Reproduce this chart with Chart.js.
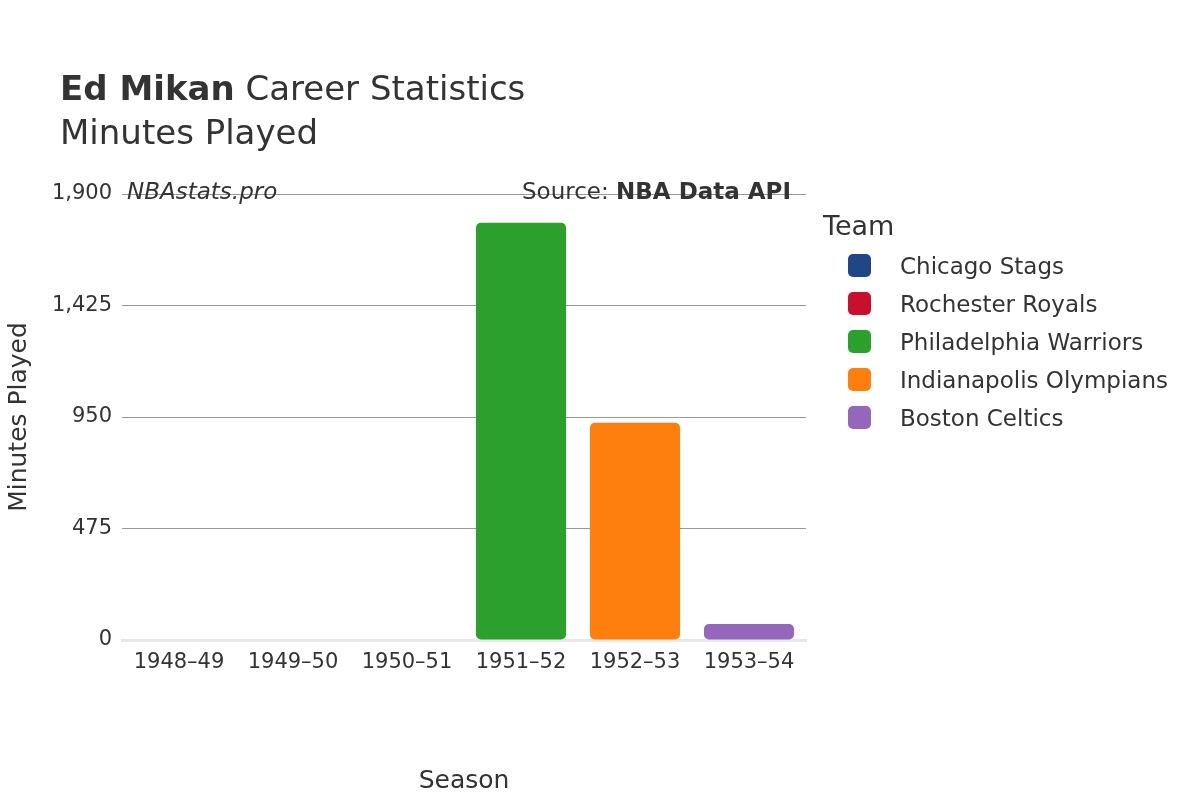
<!DOCTYPE html>
<html>
<head>
<meta charset="utf-8">
<script src="https://cdn.jsdelivr.net/npm/chart.js@4/dist/chart.umd.min.js"></script>
<style>
  body { margin: 0; background: #fff; font-family: "DejaVu Sans", sans-serif; color: #333; }
  #wrap { position: relative; width: 1200px; height: 800px; }
  .t { position: absolute; white-space: nowrap; }
  .leg { position: absolute; left: 848px; font-size: 23px; color: #333; }
  .leg span { display: inline-block; width: 23px; height: 23px; border-radius: 5px; vertical-align: -3px; margin-right: 29px; }
</style>
</head>
<body>
<div id="wrap">
  <canvas id="c" width="1200" height="800"></canvas>
  <div class="t" style="left:60px;top:68px;font-size:34px;"><b>Ed Mikan</b> Career Statistics</div>
  <div class="t" style="left:60px;top:112px;font-size:34px;">Minutes Played</div>
  <div class="t" style="left:127px;top:178px;font-size:23px;font-style:italic;">NBAstats.pro</div>
  <div class="t" style="left:522px;top:178px;font-size:23px;">Source: <b>NBA Data API</b></div>
  <div class="t" style="left:823px;top:210px;font-size:27px;">Team</div>
  <div id="legend"></div>
</div>
<script>
const seasons = ['1948–49', '1949–50', '1950–51', '1951–52', '1952–53', '1953–54'];
const teams = ['Chicago Stags', 'Rochester Royals', 'Philadelphia Warriors', 'Indianapolis Olympians', 'Boston Celtics'];
const teamColors = ['#1f4788', '#c8102e', '#2ca02c', '#ff7f0e', '#9467bd'];
const chicagoMinutes = [0, null, null, null, null, null];
const rochesterMinutes = [null, 0, 0, null, null, null];
const philadelphiaMinutes = [null, null, null, 1777, null, null];
const indianapolisMinutes = [null, null, null, null, 925, null];
const bostonMinutes = [null, null, null, null, null, 68];
const seriesValues = [chicagoMinutes, rochesterMinutes, philadelphiaMinutes, indianapolisMinutes, bostonMinutes];

const legend = document.getElementById('legend');
teams.forEach((t, i) => {
    const d = document.createElement('div');
    d.className = 'leg';
    d.style.top = (253 + i * 38) + 'px';
    d.innerHTML = `<span style="background:${teamColors[i]}"></span>${t}`;
    legend.appendChild(d);
});

new Chart(document.getElementById('c'), {
    type: 'bar',
    data: {
        labels: seasons,
        datasets: teams.map((t, i) => ({
            label: t,
            data: seriesValues[i],
            backgroundColor: teamColors[i],
            borderRadius: 5,
            borderSkipped: false,
            categoryPercentage: 0.79,
            barPercentage: 1
        }))
    },
    options: {
        responsive: false,
        animation: false,
        layout: { padding: { top: 194, right: 394, left: 0, bottom: 0 } },
        plugins: { legend: { display: false }, tooltip: { enabled: false } },
        scales: {
            x: {
                stacked: true,
                grid: { display: false },
                border: { color: '#e8e8e8', width: 3 },
                ticks: { color: '#333', font: { size: 21, family: 'DejaVu Sans' }, padding: 2 },
                title: { display: true, text: 'Season', color: '#333', font: { size: 25, family: 'DejaVu Sans' }, padding: { top: 22 } },
                afterFit: s => { s.height = 160; }
            },
            y: {
                stacked: true,
                min: 0, max: 1900,
                grid: { color: ctx => ctx.tick.value === 0 ? 'rgba(0,0,0,0)' : '#999', drawTicks: true, tickLength: 8, tickColor: 'rgba(0,0,0,0)' },
                border: { display: false },
                ticks: { stepSize: 500, color: '#333', font: { size: 21, family: 'DejaVu Sans' }, padding: 2 },
                title: { display: true, text: 'Minutes Played', color: '#333', font: { size: 25, family: 'DejaVu Sans' }, padding: { bottom: 0 } },
                afterFit: s => { s.width = 122; }
            }
        }
    }
});
</script>
</body>
</html>
